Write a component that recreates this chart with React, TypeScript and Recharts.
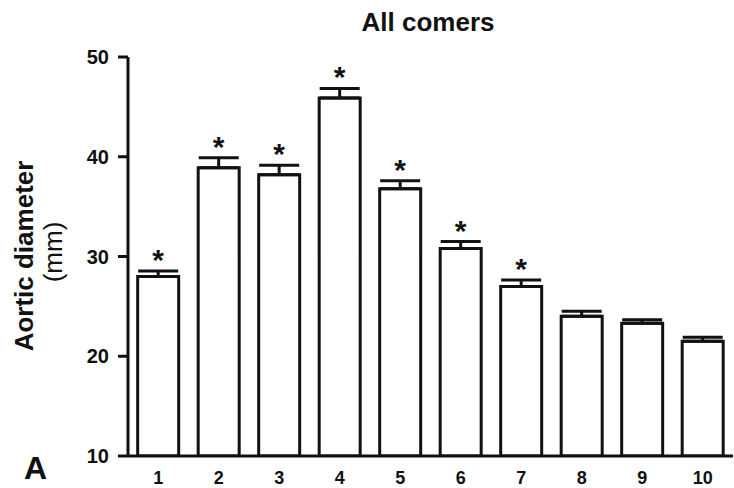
import React from "react";
import { BarChart, Bar, XAxis, YAxis, ErrorBar, LabelList, Customized } from "recharts";

const categories = ["1", "2", "3", "4", "5", "6", "7", "8", "9", "10"];
const means = [28.0, 38.9, 38.2, 45.9, 36.8, 30.8, 27.0, 24.0, 23.3, 21.5];
const sems = [0.55, 1.0, 0.95, 0.95, 0.8, 0.7, 0.65, 0.5, 0.35, 0.4];
const significant = [true, true, true, true, true, true, true, false, false, false];
const yTicks = [10, 20, 30, 40, 50];

const data = categories.map((c, i) => ({
  name: c,
  value: means[i],
  err: [0, sems[i]],
}));

const FONT = "'Liberation Sans', Arial, Helvetica, sans-serif";

const Star = (props: any) => {
  const { x, y, width, height, index } = props;
  if (!significant[index]) return null;
  const v = means[index];
  const pxPerUnit = height / (v - 10);
  const capY = y - sems[index] * pxPerUnit;
  return (
    <text
      x={x + width / 2}
      y={capY - 1}
      textAnchor="middle"
      fontFamily={FONT}
      fontWeight="bold"
      fontSize={30}
      fill="#111"
    >
      *
    </text>
  );
};

const Decorations = () => (
  <g>
    <text x={428} y={31} textAnchor="middle" fontFamily={FONT} fontWeight="bold" fontSize={26} fill="#111">
      All comers
    </text>
    <text
      transform="translate(33,256) rotate(-90)"
      textAnchor="middle"
      fontFamily={FONT}
      fontWeight="bold"
      fontSize={26}
      fill="#111"
    >
      Aortic diameter
    </text>
    <text
      transform="translate(62,252) rotate(-90)"
      textAnchor="middle"
      fontFamily={FONT}
      fontSize={26}
      fill="#111"
    >
      (mm)
    </text>
    <text x={24} y={479} fontFamily={FONT} fontWeight="bold" fontSize={32} fill="#111">
      A
    </text>
  </g>
);

export default function App() {
  return (
    <div style={{ position: "absolute", left: 0, top: 0, width: 734, height: 488, background: "#fff" }}>
      <BarChart
        width={734}
        height={488}
        data={data}
        margin={{ top: 57, right: 1, bottom: 2, left: 0 }}
        barCategoryGap="16%"
      >
        <XAxis
          dataKey="name"
          height={30}
          tickLine={false}
          tickMargin={9}
          axisLine={{ stroke: "#111", strokeWidth: 3 }}
          tick={{ fill: "#111", fontSize: 18, fontWeight: "bold", fontFamily: FONT }}
        />
        <YAxis
          width={128}
          domain={[10, 50]}
          ticks={yTicks}
          allowDataOverflow
          tickSize={10}
          tickMargin={9}
          axisLine={{ stroke: "#111", strokeWidth: 3 }}
          tickLine={{ stroke: "#111", strokeWidth: 3 }}
          tick={{ fill: "#111", fontSize: 20, fontWeight: "bold", fontFamily: FONT }}
        />
        <Bar dataKey="value" fill="#fff" stroke="#111" strokeWidth={3} isAnimationActive={false}>
          <ErrorBar dataKey="err" width={20} stroke="#111" strokeWidth={3} direction="y" />
          <LabelList dataKey="value" content={<Star />} />
        </Bar>
        <Customized component={Decorations} />
      </BarChart>
    </div>
  );
}
